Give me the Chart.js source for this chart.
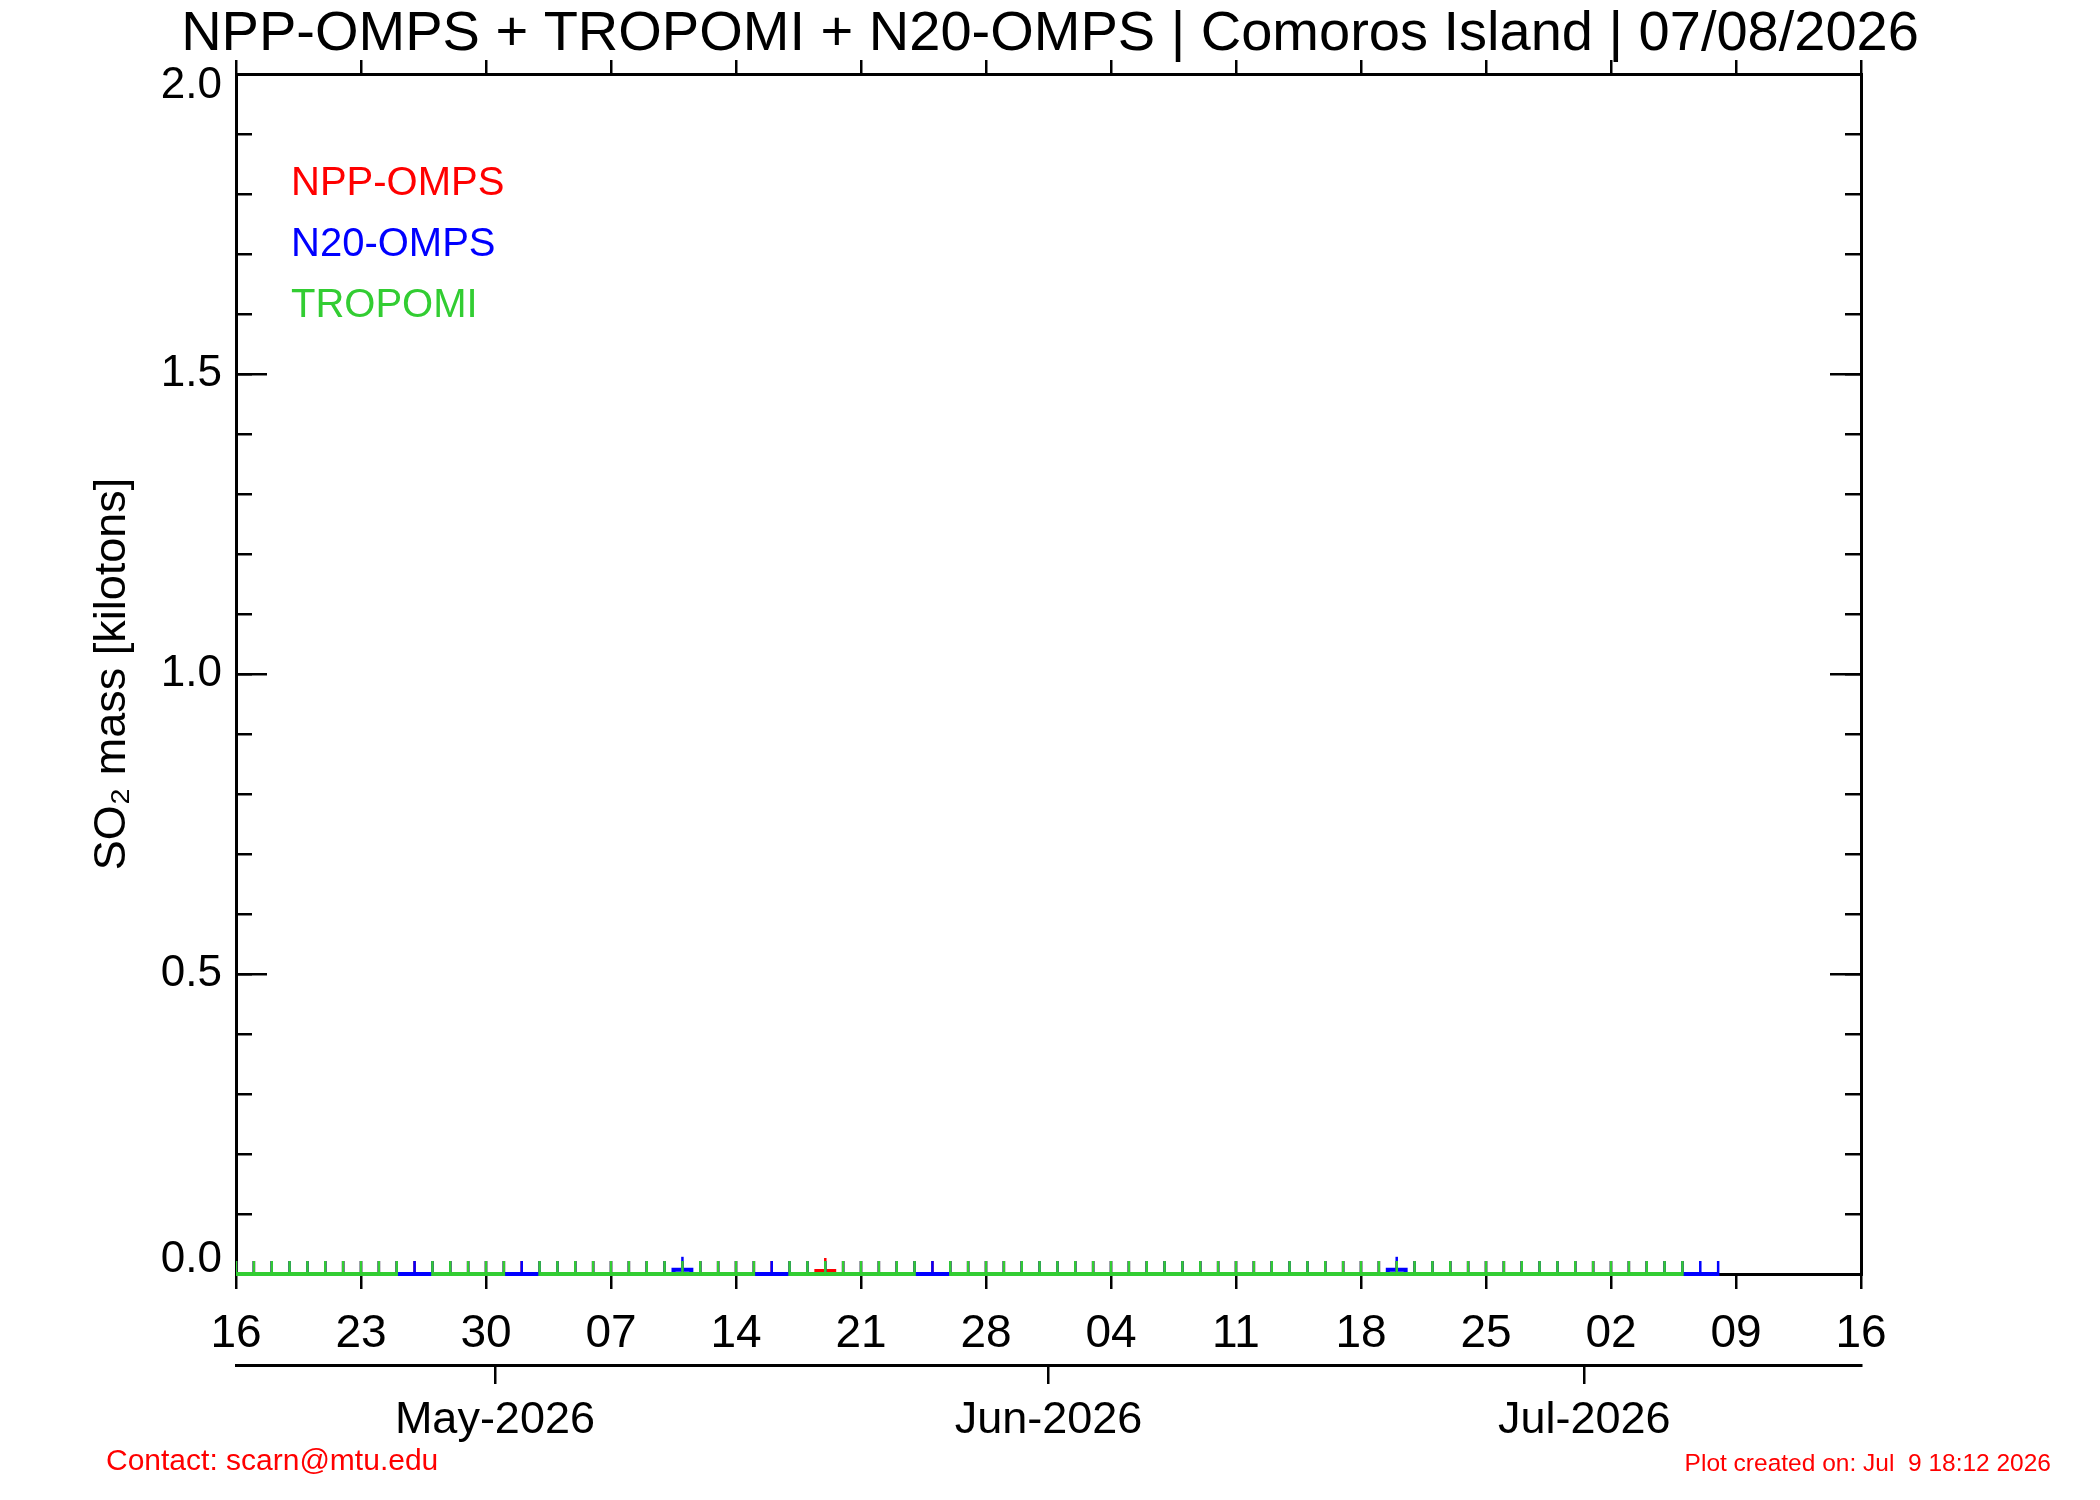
<!DOCTYPE html>
<html>
<head>
<meta charset="utf-8">
<script src="https://cdn.jsdelivr.net/npm/chart.js@4.4.1/dist/chart.umd.min.js"></script>
<style>
html, body { margin: 0; padding: 0; background: #ffffff; }
canvas { display: block; }
</style>
</head>
<body>
<canvas id="c" width="2100" height="1500" style="width:2100px;height:1500px"></canvas>
<script>
// ---------------- data ----------------
const chartTitle = 'NPP-OMPS + TROPOMI + N20-OMPS | Comoros Island | 07/08/2026';
const yAxisTitle = 'SO\u2082 mass [kilotons]';
// x values are days since 16-Apr-2026
const dayTickLabels = ['16', '23', '30', '07', '14', '21', '28', '04', '11', '18', '25', '02', '09', '16'];
const monthTickDays = [14.5, 45.5, 75.5];
const monthTickLabels = ['May-2026', 'Jun-2026', 'Jul-2026'];
const seriesNames = ['NPP-OMPS', 'N20-OMPS', 'TROPOMI'];
const seriesColors = ['#ff0000', '#0000ff', '#32cd32'];

// NPP-OMPS, days 0..81
const nppKt = [
  0, 0, 0, 0, 0, 0, 0,
  0, 0, 0, 0, 0, 0, 0,
  0, 0, 0, 0, 0, 0, 0,
  0, 0, 0, 0, 0, 0, 0,
  0, 0, 0, 0, 0, 0.005, 0,
  0, 0, 0, 0, 0, 0, 0,
  0, 0, 0, 0, 0, 0, 0,
  0, 0, 0, 0, 0, 0, 0,
  0, 0, 0, 0, 0, 0, 0,
  0, 0, 0, 0, 0, 0, 0,
  0, 0, 0, 0, 0, 0, 0,
  0, 0, 0, 0, 0
];
// N20-OMPS, days 0..83
const n20Kt = [
  0, 0, 0, 0, 0, 0, 0,
  0, 0, 0, 0, 0, 0, 0,
  0, 0, 0, 0, 0, 0, 0,
  0, 0, 0, 0, 0.007, 0, 0,
  0, 0, 0, 0, 0, 0, 0,
  0, 0, 0, 0, 0, 0, 0,
  0, 0, 0, 0, 0, 0, 0,
  0, 0, 0, 0, 0, 0, 0,
  0, 0, 0, 0, 0, 0, 0,
  0, 0, 0.007, 0, 0, 0, 0,
  0, 0, 0, 0, 0, 0, 0,
  0, 0, 0, 0, 0, 0, 0
];
// TROPOMI, days 0..81 (null = no overpass)
const tropomiKt = [
  0, 0, 0, 0, 0, 0, 0,
  0, 0, 0, null, 0, 0, 0,
  0, 0, null, 0, 0, 0, 0,
  0, 0, 0, 0, 0, 0, 0,
  0, 0, null, 0, 0, 0, 0,
  0, 0, 0, 0, null, 0, 0,
  0, 0, 0, 0, 0, 0, 0,
  0, 0, 0, 0, 0, 0, 0,
  0, 0, 0, 0, 0, 0, 0,
  0, 0, 0, 0, 0, 0, 0,
  0, 0, 0, 0, 0, 0, 0,
  0, 0, 0, 0, 0
];
const contactText = 'Contact: scarn@mtu.edu';
const createdText = 'Plot created on: Jul  9 18:12 2026';

// ---------------- chart ----------------
const FONT = "'Liberation Sans', Arial, Helvetica, sans-serif";
const toPoints = (values) => values.map((v, i) => ({ x: i, y: v }));
const AXIS_BORDER = { display: true, color: '#000000', width: 3 };

function seriesDataset(k, values, order) {
  const color = seriesColors[k];
  return {
    label: seriesNames[k],
    data: toPoints(values),
    xAxisID: 'x',
    yAxisID: 'y',
    order: order,
    stepped: 'middle',
    borderColor: color,
    backgroundColor: color,
    borderWidth: 4,
    fill: false,
    spanGaps: false,
    pointStyle: 'line',
    pointRotation: 90,
    pointRadius: 13,
    pointHoverRadius: 13,
    pointBorderWidth: 2.5,
    pointBorderColor: color,
    pointBackgroundColor: color,
    clip: { left: 0, right: 0, top: 0, bottom: 2 }
  };
}

const footerPlugin = {
  id: 'footerText',
  afterDraw(chart) {
    const c = chart.ctx;
    c.save();
    c.fillStyle = '#ff0000';
    c.textBaseline = 'middle';
    c.font = '30px ' + FONT;
    c.textAlign = 'left';
    c.fillText(contactText, 106, 1462);
    c.font = '24.5px ' + FONT;
    c.textAlign = 'right';
    c.fillText(createdText, 2051, 1464);
    c.restore();
  }
};

const yLabelFont = (ctx) => {
  const v = ctx && ctx.tick ? ctx.tick.value : null;
  let lh = 1;
  if (v === 0) lh = 28 / 44;
  if (v === 2) lh = 24 / 44;
  return { family: FONT, size: 44, lineHeight: lh };
};

new Chart(document.getElementById('c'), {
  type: 'line',
  data: {
    datasets: [
      seriesDataset(0, nppKt, 3),
      seriesDataset(1, n20Kt, 2),
      seriesDataset(2, tropomiKt, 1)
    ]
  },
  plugins: [footerPlugin],
  options: {
    responsive: false,
    maintainAspectRatio: false,
    devicePixelRatio: 1,
    animation: false,
    events: [],
    layout: { padding: 0 },
    plugins: {
      tooltip: { enabled: false },
      title: {
        display: true,
        text: chartTitle,
        color: '#000000',
        font: { family: FONT, size: 56, weight: 'normal', lineHeight: 0.911 },
        padding: { top: 9, bottom: 0 }
      },
      legend: {
        display: true,
        position: 'chartArea',
        align: 'start',
        title: { display: true, text: ' ', font: { family: FONT, size: 10, lineHeight: 1 }, padding: { top: 133, bottom: 0 } },
        labels: {
          boxWidth: 14,
          boxHeight: 0,
          padding: 21,
          font: { family: FONT, size: 40, lineHeight: 1 },
          generateLabels: (chart) => chart.data.datasets.map((ds, i) => ({
            text: ds.label,
            fontColor: ds.borderColor,
            fillStyle: 'rgba(0,0,0,0)',
            strokeStyle: 'rgba(0,0,0,0)',
            lineWidth: 0,
            hidden: false,
            datasetIndex: i
          }))
        }
      }
    },
    scales: {
      x: {
        type: 'linear', position: 'bottom', weight: 1, min: 0, max: 91,
        afterFit: (s) => { s.height = 91; },
        ticks: {
          stepSize: 7, autoSkip: false, maxRotation: 0, minRotation: 0, padding: 22,
          color: '#000000', font: { family: FONT, size: 46, lineHeight: 1 },
          callback: (v, i) => dayTickLabels[i]
        },
        grid: { drawOnChartArea: false, drawTicks: true, tickLength: 15, color: '#000000', lineWidth: 2.5 },
        border: AXIS_BORDER
      },
      xMonth: {
        type: 'linear', position: 'bottom', weight: 2, min: 0, max: 91,
        afterBuildTicks: (s) => { s.ticks = monthTickDays.map((v) => ({ value: v })); },
        afterFit: (s) => { s.height = 135; },
        ticks: {
          autoSkip: false, maxRotation: 0, minRotation: 0, padding: 14,
          color: '#000000', font: { family: FONT, size: 45, lineHeight: 1 },
          callback: (v, i) => monthTickLabels[i]
        },
        grid: { drawOnChartArea: false, drawTicks: true, tickLength: 19, color: '#000000', lineWidth: 2.5 },
        border: AXIS_BORDER
      },
      xTop: {
        type: 'linear', position: 'top', weight: 1, min: 0, max: 91,
        afterFit: (s) => { s.height = 14; },
        ticks: { stepSize: 7, display: false },
        grid: { drawOnChartArea: false, drawTicks: true, tickLength: 14, color: '#000000', lineWidth: 2.5 },
        border: AXIS_BORDER
      },
      y: {
        type: 'linear', position: 'left', weight: 2, min: 0, max: 2,
        afterFit: (s) => { s.width = 236; },
        ticks: {
          stepSize: 0.5, padding: 45, color: '#000000', font: yLabelFont,
          callback: (v) => {
            const s = Number(v).toFixed(1);
            if (v === 0) return [s, ''];
            if (v === 2) return ['', s];
            return s;
          }
        },
        grid: { drawOnChartArea: false, drawTicks: true, tickLength: -31, color: '#000000', lineWidth: 2.5 },
        border: AXIS_BORDER,
        title: {
          display: true, text: yAxisTitle, color: '#000000',
          font: { family: FONT, size: 45, lineHeight: 1 },
          padding: { top: 90, bottom: 0 }
        }
      },
      yMinor: {
        type: 'linear', position: 'left', weight: 1, min: 0, max: 2,
        afterFit: (s) => { s.width = 0; },
        ticks: { stepSize: 0.1, display: false },
        grid: { drawOnChartArea: false, drawTicks: true, tickLength: -16, color: '#000000', lineWidth: 2.5 },
        border: AXIS_BORDER
      },
      yRight: {
        type: 'linear', position: 'right', weight: 2, min: 0, max: 2,
        afterFit: (s) => { s.width = 239; },
        ticks: { stepSize: 0.5, display: false },
        grid: { drawOnChartArea: false, drawTicks: true, tickLength: -31, color: '#000000', lineWidth: 2.5 },
        border: AXIS_BORDER
      },
      yRightMinor: {
        type: 'linear', position: 'right', weight: 1, min: 0, max: 2,
        afterFit: (s) => { s.width = 0; },
        ticks: { stepSize: 0.1, display: false },
        grid: { drawOnChartArea: false, drawTicks: true, tickLength: -16, color: '#000000', lineWidth: 2.5 },
        border: AXIS_BORDER
      }
    }
  }
});
</script>
</body>
</html>
